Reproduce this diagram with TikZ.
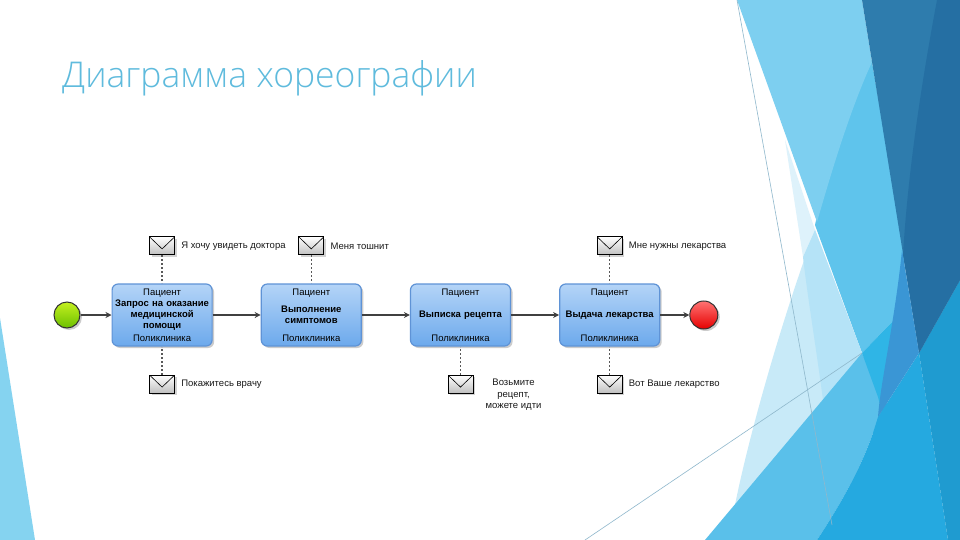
\documentclass[tikz,border=0pt]{standalone}
\usepackage{fontspec}
\setmainfont{Liberation Sans}
\newfontfamily\titlefont{Open Sans Light}
\usepackage{xcolor}
\usepackage{tikz}
\usetikzlibrary{arrows.meta,positioning,calc,shadows}
\definecolor{titleblue}{HTML}{5FBBDD}
\definecolor{leftblue}{HTML}{85D3F0}
\definecolor{bandtop}{HTML}{7DCFF0}
\definecolor{bandmid}{HTML}{5FC4EC}
\definecolor{darkleft}{HTML}{2E7CAD}
\definecolor{darkright}{HTML}{256FA3}
\definecolor{midblue}{HTML}{3A96D5}
\definecolor{palea}{HTML}{C8EAF8}
\definecolor{paleb}{HTML}{B5E3F7}
\definecolor{palec}{HTML}{DEF2FB}
\definecolor{lowleft}{HTML}{5AC0EA}
\definecolor{lowtri}{HTML}{2FB5E6}
\definecolor{lowmid}{HTML}{25A9E0}
\definecolor{lowright}{HTML}{1F9BD0}
\definecolor{thinline}{HTML}{8FB8CC}
\definecolor{taskedge}{HTML}{5F93D6}
\definecolor{tasktop}{HTML}{B4D4F7}
\definecolor{taskbot}{HTML}{6CA9EC}
\definecolor{limetop}{HTML}{C4F020}
\definecolor{limebot}{HTML}{6CC000}
\tikzset{
  taskbox/.style={draw=taskedge,line width=1.2pt,rounded corners=6pt,minimum width=100pt,minimum height=62pt,
    top color=tasktop,bottom color=taskbot,align=center,font=\fontsize{9.5}{11.3}\selectfont\bfseries,
    inner sep=0pt,text width=98pt,drop shadow={shadow xshift=2pt,shadow yshift=-2pt,opacity=.4}},
  rolelabel/.style={font=\fontsize{9.5}{11}\selectfont,inner sep=0pt},
  mailbox/.style={draw=black,line width=1pt,minimum width=25pt,minimum height=18pt,inner sep=0pt,top color=white,bottom color=black!25,
    drop shadow={shadow xshift=2pt,shadow yshift=-2pt,opacity=.35},
    path picture={\draw[black,semithick] (path picture bounding box.north west) -- ($(path picture bounding box.center)+(0,-3pt)$) -- (path picture bounding box.north east);}},
  mailtext/.style={font=\fontsize{9.5}{11.5}\selectfont,inner sep=0pt,align=center,text=black!90},
  flowarrow/.style={-{Stealth[length=6pt,width=6pt]},draw=black!75,line width=1.3pt},
  mailline/.style={draw=black!65,line width=1.3pt,dash pattern=on 1.6pt off 2.4pt},
  eventdot/.style={circle,draw=black!80,line width=1pt,drop shadow={shadow xshift=2pt,shadow yshift=-2pt,opacity=.4}}
}
\begin{document}
\begin{tikzpicture}[x=1pt,y=-1pt,node distance=48pt and 48pt]
  \useasboundingbox (0,0) rectangle (960,540);
  % backdrop
  \fill[white] (0,0) rectangle (960,540);
  \fill[leftblue] (0,318) -- (35,540) -- (0,540) -- cycle;
  \fill[bandmid] (872,62) -- (905,255) -- (900,330) -- (892,322) -- (862,353) -- (815,225) -- (850,62) -- cycle;
  \fill[bandtop] (737,0) -- (862,0) -- (872,62) .. controls (850,110) and (832,170) .. (817,222) -- cycle;
  \fill[palea] (815,230) -- (862,353) -- (770,505) -- (735,505) .. controls (750,430) and (785,310) .. cycle;
  \fill[palec] (785,140) -- (815,230) -- (803,257) -- cycle;
  \fill[paleb] (815,230) -- (862,353) -- (823,400) .. controls (815,340) and (808,300) .. (803,257) -- cycle;
  \fill[lowleft] (862,353) -- (882,397) -- (882,433) -- (873,433) .. controls (860,470) and (840,505) .. (817,540) -- (705,540) -- cycle;
  \fill[lowtri] (862,353) -- (892,322) -- (900,322) -- (884,420) -- (878,397) -- cycle;
  \fill[lowmid] (919,353) -- (948,540) -- (817,540) .. controls (840,505) and (860,470) .. (873,433) -- (878,417) -- cycle;
  \fill[lowright] (919,353) -- (960,280) -- (960,540) -- (948,540) -- cycle;
  \fill[darkleft] (862,0) -- (960,0) -- (960,280) -- (919,353) -- cycle;
  \fill[darkright] (937,0) -- (960,0) -- (960,280) -- (919,353) -- (903,255) .. controls (908,170) and (922,80) .. cycle;
  \fill[midblue] (902,250) -- (919,353) -- (878,417) .. controls (880,385) and (895,320) .. cycle;
  \draw[thinline,line width=.6pt] (737,0) -- (832,525);
  \draw[thinline,line width=.6pt] (585,540) -- (862,353);
  \node[anchor=base west,inner sep=0pt,text=titleblue,font=\fontsize{35.5}{36}\titlefont] (title) at (62,88) {Диаграмма хореографии};
  % flow
  \node[eventdot,minimum size=26pt,inner sep=0pt,top color=limetop,bottom color=limebot] (start) at (67,315) {};
  \node[taskbox,right=31pt of start,label={[rolelabel,anchor=north,yshift=-5pt]north:Пациент},label={[rolelabel,anchor=south,yshift=5pt]south:Поликлиника}] (request) {Запрос на оказание\\медицинской\\помощи};
  \node[taskbox,right=of request,label={[rolelabel,anchor=north,yshift=-5pt]north:Пациент},label={[rolelabel,anchor=south,yshift=5pt]south:Поликлиника}] (symptoms) {Выполнение\\симптомов};
  \node[taskbox,right=of symptoms,label={[rolelabel,anchor=north,yshift=-5pt]north:Пациент},label={[rolelabel,anchor=south,yshift=5pt]south:Поликлиника}] (recipe) {Выписка рецепта};
  \node[taskbox,right=of recipe,label={[rolelabel,anchor=north,yshift=-5pt]north:Пациент},label={[rolelabel,anchor=south,yshift=5pt]south:Поликлиника}] (drug) {Выдача лекарства};
  \node[eventdot,right=29pt of drug,minimum size=28pt,inner sep=0pt,top color=red!55,bottom color=red!90!black] (stop) {};
  \draw[flowarrow] (start) -- (request);
  \draw[flowarrow] (request) -- (symptoms);
  \draw[flowarrow] (symptoms) -- (recipe);
  \draw[flowarrow] (recipe) -- (drug);
  \draw[flowarrow] (drug) -- (stop);
  % messages
  \node[mailbox,above=28pt of request] (wish) {};
  \node[mailbox,above=28pt of symptoms] (sick) {};
  \node[mailbox,above=28pt of drug] (need) {};
  \node[mailbox,below=28pt of request] (show) {};
  \node[mailbox,below=28pt of recipe] (take) {};
  \node[mailbox,below=28pt of drug] (here) {};
  \node[mailtext,right=6pt of wish] (wishtext) {Я хочу увидеть доктора};
  \node[mailtext,right=6pt of sick] (sicktext) {Меня тошнит};
  \node[mailtext,right=6pt of need] (needtext) {Мне нужны лекарства};
  \node[mailtext,right=6pt of show] (showtext) {Покажитесь врачу};
  \node[mailtext,right=12pt of take,yshift=-11pt] (taketext) {Возьмите\\рецепт,\\можете идти};
  \node[mailtext,right=6pt of here] (heretext) {Вот Ваше лекарство};
  \draw[mailline] (wish) -- (request);
  \draw[mailline] (sick) -- (symptoms);
  \draw[mailline] (need) -- (drug);
  \draw[mailline] (show) -- (request);
  \draw[mailline] (take) -- (recipe);
  \draw[mailline] (here) -- (drug);
\end{tikzpicture}
\end{document}
